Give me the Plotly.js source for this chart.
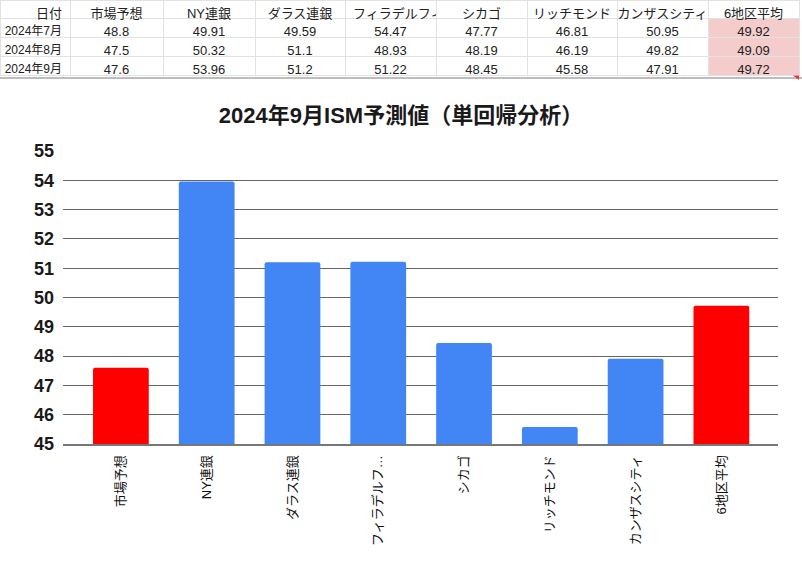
<!DOCTYPE html>
<html>
<head>
<meta charset="utf-8">
<script src="https://cdn.plot.ly/plotly-3.0.1.min.js"></script>
<style>
html,body{margin:0;padding:0;background:#fff;}
#chart{width:802px;height:573px;}
</style>
</head>
<body>
<div id="chart"></div>
<script>
// ---- data ----
const dates = ['2024年7月', '2024年8月', '2024年9月'];
const headerLabels = ['日付', '市場予想', 'NY連銀', 'ダラス連銀', 'フィラデルフィア', 'シカゴ', 'リッチモンド', 'カンザスシティ', '6地区平均'];
const categories = ['市場予想', 'NY連銀', 'ダラス連銀', 'フィラデルフィア', 'シカゴ', 'リッチモンド', 'カンザスシティ', '6地区平均'];
const tickLabels = ['市場予想', 'NY連銀', 'ダラス連銀', 'フィラデルフ…', 'シカゴ', 'リッチモンド', 'カンザスシティ', '6地区平均'];
const market   = [48.8, 47.5, 47.6];
const ny       = [49.91, 50.32, 53.96];
const dallas   = [49.59, 51.1, 51.2];
const phil     = [54.47, 48.93, 51.22];
const chicago  = [47.77, 48.19, 48.45];
const richmond = [46.81, 46.19, 45.58];
const kc       = [50.95, 49.82, 47.91];
const avg6     = [49.92, 49.09, 49.72];
const chartTitle = '2024年9月ISM予測値（単回帰分析）';

// ---- build ----
const series = [market, ny, dallas, phil, chicago, richmond, kc, avg6];
const sepIdx = 2;
const sepValues = series.map(s => s[sepIdx]);
const highlighted = ['市場予想', '6地区平均'];
const barColors = categories.map(c => highlighted.includes(c) ? '#ff0000' : '#4285f4');

const W = 802, H = 573;
const px = v => v / W;
const py = v => 1 - v / H;

const FONT = '"Liberation Sans", Arial, "Noto Sans CJK JP", sans-serif';

const pink = '#f4cccc';
const colFills = [dates.map(() => '#ffffff')];
series.forEach((s, i) => colFills.push(s.map(() => i === series.length - 1 ? pink : '#ffffff')));

const tableTrace = {
  type: 'table',
  domain: {x: [0, px(799)], y: [py(80), 1]},
  columnwidth: [70, 93, 92, 90, 91, 91, 90, 91, 91],
  header: {
    values: headerLabels,
    align: ['right', 'center', 'center', 'center', 'left', 'center', 'center', 'center', 'center'],
    height: 18,
    fill: {color: '#ffffff'},
    line: {color: '#e2e2e2', width: 1},
    font: {family: FONT, size: 13, color: '#222'}
  },
  cells: {
    values: [dates].concat(series.map(s => s.map(v => String(v)))),
    align: ['right', 'center', 'center', 'center', 'center', 'center', 'center', 'center', 'center'],
    height: 19,
    fill: {color: colFills},
    line: {color: '#e2e2e2', width: 1},
    font: {family: FONT, size: [12, 13, 13, 13, 13, 13, 13, 13, 13], color: '#222'}
  },
  hoverinfo: 'skip'
};

const barTrace = {
  type: 'bar',
  x: categories,
  y: sepValues,
  marker: {color: barColors, line: {width: 0}},
  width: 0.65,
  xaxis: 'x',
  yaxis: 'y',
  hoverinfo: 'x+y'
};

const layout = {
  width: W, height: H,
  margin: {l: 0, r: 0, t: 0, b: 0},
  paper_bgcolor: '#ffffff',
  plot_bgcolor: '#ffffff',
  showlegend: false,
  barcornerradius: 2,
  font: {family: FONT, color: '#222'},
  title: {
    text: chartTitle,
    x: 0.5, xref: 'paper', xanchor: 'center',
    y: py(115), yref: 'paper', yanchor: 'middle',
    font: {family: FONT, size: 22, weight: 'bold', color: '#1a1a1a'}
  },
  xaxis: {
    domain: [px(63), px(778)],
    anchor: 'y',
    type: 'category',
    range: [-0.675, 7.66],
    tickvals: categories,
    ticktext: tickLabels,
    tickangle: -90,
    ticks: '',
    ticklabelstandoff: 4,
    tickfont: {family: FONT, size: 13, color: '#111'},
    showgrid: false,
    showline: true,
    linecolor: '#777',
    linewidth: 2,
    fixedrange: true
  },
  yaxis: {
    domain: [py(444), py(151)],
    anchor: 'x',
    range: [45, 55],
    dtick: 1,
    tick0: 45,
    ticks: '',
    ticklabelstandoff: 8,
    tickfont: {family: FONT, size: 18, weight: 'bold', color: '#1a1a1a'},
    showgrid: true,
    gridcolor: '#666',
    gridwidth: 1,
    zeroline: false,
    showline: false,
    fixedrange: true
  },
  shapes: [
    {type: 'line', xref: 'paper', yref: 'paper', x0: 0, x1: 1, y0: py(78), y1: py(78),
     line: {color: '#bdbdbd', width: 2}},
    {type: 'path', xref: 'paper', yref: 'paper',
     path: `M ${px(793)} ${py(75.5)} L ${px(799)} ${py(75.5)} L ${px(799)} ${py(80)} Z`,
     fillcolor: '#e53935', line: {width: 0}}
  ]
};

Plotly.newPlot('chart', [tableTrace, barTrace], layout, {displayModeBar: false, staticPlot: true});
</script>
</body>
</html>
